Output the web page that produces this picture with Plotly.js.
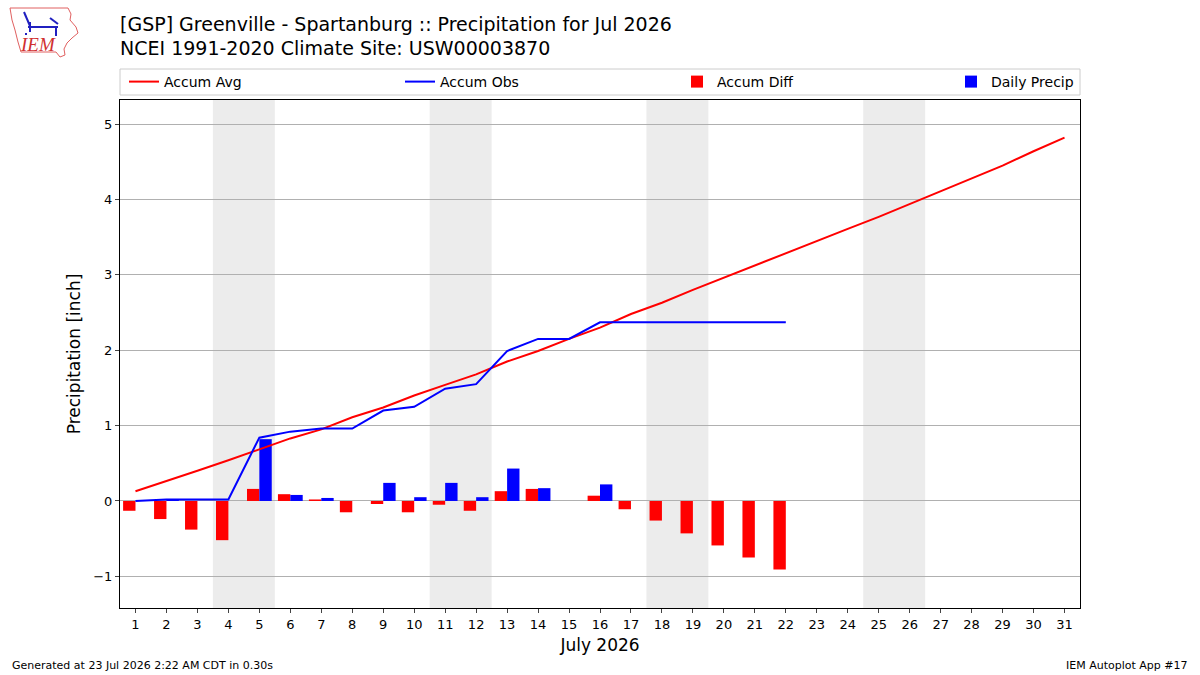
<!DOCTYPE html>
<html>
<head>
<meta charset="utf-8">
<script src="https://cdn.plot.ly/plotly-3.0.1.min.js"></script>
<style>html,body{margin:0;padding:0;background:#fff;}#chart{width:1200px;height:675px;}</style>
</head>
<body>
<div id="chart"></div>
<script>
// ---- data ----
const days = [1,2,3,4,5,6,7,8,9,10,11,12,13,14,15,16,17,18,19,20,21,22,23,24,25,26,27,28,29,30,31];
const obsDays = [1,2,3,4,5,6,7,8,9,10,11,12,13,14,15,16,17,18,19,20,21,22];
const accumAvg = [0.13,0.26,0.40,0.54,0.68,0.83,0.95,1.11,1.24,1.40,1.54,1.68,1.85,1.99,2.15,2.30,2.48,2.63,2.80,2.96,3.12,3.28,3.44,3.61,3.77,3.94,4.11,4.28,4.45,4.64,4.82];
const accumObs = [0.00,0.02,0.02,0.02,0.84,0.92,0.96,0.96,1.20,1.25,1.49,1.55,1.99,2.15,2.15,2.37,2.37,2.37,2.37,2.37,2.37,2.37];
const accumDiff = [-0.13,-0.24,-0.38,-0.52,0.16,0.09,0.02,-0.15,-0.04,-0.15,-0.05,-0.13,0.13,0.16,0.00,0.07,-0.11,-0.26,-0.43,-0.59,-0.75,-0.91];
const dailyPrecip = [0.00,0.02,0.00,0.00,0.82,0.08,0.04,0.00,0.24,0.05,0.24,0.05,0.43,0.17,0.00,0.22,0.00,0.00,0.00,0.00,0.00,0.00];
const weekendStarts = [4,11,18,25];
const yTicks = [-1,0,1,2,3,4,5];

const titleLine1 = "[GSP] Greenville - Spartanburg :: Precipitation for Jul 2026";
const titleLine2 = "NCEI 1991-2020 Climate Site: USW00003870";
const footerLeft = "Generated at 23 Jul 2026 2:22 AM CDT in 0.30s";
const footerRight = "IEM Autoplot App #17";

// ---- layout helpers ----
const W = 1200, H = 675, L = 120, R = 1080, T = 100, B = 608;
const px = x => (x - L) / (R - L);
const py = y => (B - y) / (B - T);
const FONT = "DejaVu Sans, sans-serif";

const traces = [
  {type:'scatter', mode:'lines', name:'Accum Avg', x:days, y:accumAvg,
   line:{color:'#ff0000', width:2}, legend:'legend'},
  {type:'scatter', mode:'lines', name:'Accum Obs', x:obsDays, y:accumObs,
   line:{color:'#0000ff', width:2}, legend:'legend2'},
  {type:'bar', name:'Accum Diff', x:obsDays, y:accumDiff, width:0.4, offset:-0.4,
   marker:{color:'#ff0000', line:{width:0}}, legend:'legend3'},
  {type:'bar', name:'Daily Precip', x:obsDays, y:dailyPrecip, width:0.4, offset:0,
   marker:{color:'#0000ff', line:{width:0}}, legend:'legend4'}
];

const shapes = weekendStarts.map(d => ({
  type:'rect', xref:'x', yref:'paper', x0:d-0.5, x1:d+1.5, y0:0, y1:1,
  fillcolor:'#ececec', line:{width:0}, layer:'below'
}));
// legend frame
shapes.push({type:'rect', xref:'paper', yref:'paper', x0:px(120), x1:px(1080), y0:py(95), y1:py(69),
  line:{color:'#cccccc', width:1}, fillcolor:'rgba(255,255,255,0)', layer:'above'});
// logo outline (rough)
const iowa = [[10,8],[68,8],[71,14],[70,20],[76,27],[78,33],[72,38],[67,43],[64,49],[65,55],[60,57],[56,52],[21,52],[18,42],[15,30],[12,20]];
shapes.push({type:'path', xref:'paper', yref:'paper',
  path: 'M' + iowa.map(p => px(p[0]) + ',' + py(p[1])).join(' L') + ' Z',
  line:{color:'#e06060', width:1}, fillcolor:'rgba(0,0,0,0)'});
const vane = [[[28,27],[58,27]],[[30,22],[30,32]],[[24,12],[30,26]],[[50,18],[58,24]],[[56,27],[56,36]],[[25,34],[27,34]]];
vane.forEach(s => shapes.push({type:'line', xref:'paper', yref:'paper',
  x0:px(s[0][0]), y0:py(s[0][1]), x1:px(s[1][0]), y1:py(s[1][1]), line:{color:'#2020c0', width:2}}));

const legendBase = {orientation:'h', yanchor:'middle', y:py(82), xanchor:'left',
  font:{family:FONT, size:14, color:'#000'}, bgcolor:'rgba(0,0,0,0)', borderwidth:0};

const layout = {
  width:W, height:H,
  margin:{l:L, r:W-R, t:T, b:H-B},
  paper_bgcolor:'#ffffff', plot_bgcolor:'#ffffff',
  font:{family:FONT, color:'#000'},
  barmode:'overlay',
  showlegend:true,
  legend: Object.assign({}, legendBase, {x:px(124)}),
  legend2: Object.assign({}, legendBase, {x:px(400)}),
  legend3: Object.assign({}, legendBase, {x:px(677)}),
  legend4: Object.assign({}, legendBase, {x:px(951)}),
  xaxis:{range:[0.5,31.5], tickvals:days, ticktext:days.map(String), ticks:'outside', ticklen:4,
    showgrid:false, zeroline:false, showline:true, mirror:true, linecolor:'#000', linewidth:1,
    tickfont:{family:FONT, size:13}, title:{text:'July 2026', font:{family:FONT, size:17}, standoff:8}},
  yaxis:{range:[-1.42,5.32], tickvals:yTicks, ticks:'outside', ticklen:4,
    showgrid:true, gridcolor:'#b0b0b0', gridwidth:1, zeroline:false, showline:true, mirror:true,
    linecolor:'#000', linewidth:1, tickfont:{family:FONT, size:13},
    title:{text:'Precipitation [inch]', font:{family:FONT, size:17}, standoff:8}},
  shapes: shapes,
  annotations:[
    {text:titleLine1, xref:'paper', yref:'paper', x:px(118), y:py(24), xanchor:'left', yanchor:'middle',
     showarrow:false, font:{family:FONT, size:19, color:'#000'}},
    {text:titleLine2, xref:'paper', yref:'paper', x:px(118), y:py(48), xanchor:'left', yanchor:'middle',
     showarrow:false, font:{family:FONT, size:19, color:'#000'}},
    {text:footerLeft, xref:'paper', yref:'paper', x:px(10), y:py(665), xanchor:'left', yanchor:'middle',
     showarrow:false, font:{family:FONT, size:11, color:'#000'}},
    {text:footerRight, xref:'paper', yref:'paper', x:px(1190), y:py(665), xanchor:'right', yanchor:'middle',
     showarrow:false, font:{family:FONT, size:11, color:'#000'}},
    {text:'<i>IEM</i>', xref:'paper', yref:'paper', x:px(38), y:py(45), xanchor:'center', yanchor:'middle',
     showarrow:false, font:{family:'Liberation Serif, serif', size:19, color:'#d03030'}}
  ]
};

Plotly.newPlot('chart', traces, layout, {displayModeBar:false, staticPlot:true});
</script>
</body>
</html>
